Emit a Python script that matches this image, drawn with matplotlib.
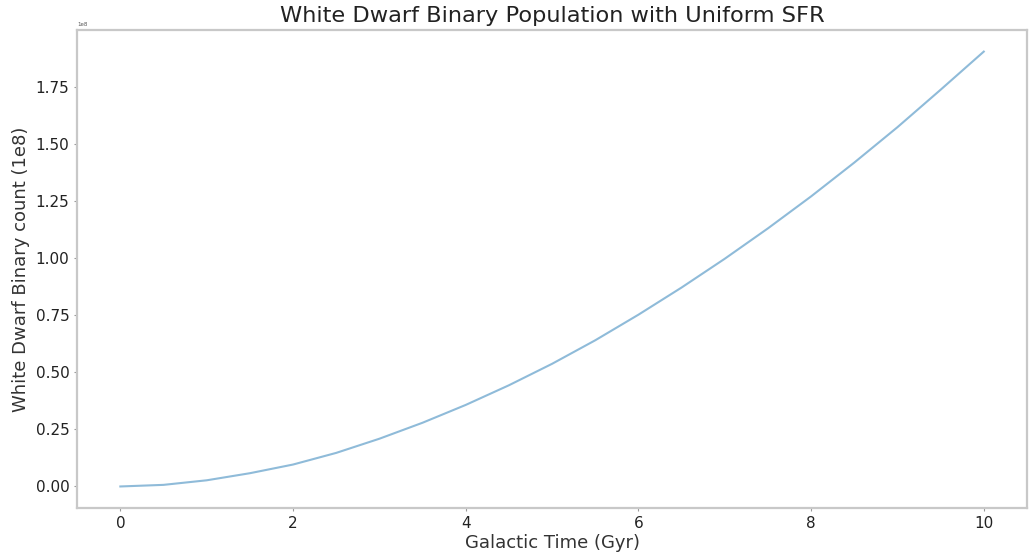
# White dwarf binary population curve
import numpy as np
import matplotlib
matplotlib.use("Agg")
import matplotlib.pyplot as plt

# Datos (tiempo en Gyr, conteo en unidades de 1e8)
tiempo = [0.0, 0.5, 1.0, 1.5, 2.0, 2.5, 3.0, 3.5, 4.0, 4.5, 5.0,
          5.5, 6.0, 6.5, 7.0, 7.5, 8.0, 8.5, 9.0, 9.5, 10.0]
conteo = [0.0, 0.007, 0.027, 0.058, 0.096, 0.147, 0.209, 0.279, 0.357, 0.443, 0.537,
          0.640, 0.752, 0.871, 0.997, 1.130, 1.270, 1.418, 1.573, 1.737, 1.904]

conteo_abs = np.array(conteo) * 1e8

fig = plt.figure(figsize=(10.29, 5.53), dpi=100)
ax = fig.add_axes([0.075, 0.081, 0.923, 0.865])
ax.plot(tiempo, conteo_abs, color='#8fbbd9', linewidth=1.5)

ax.set_title('White Dwarf Binary Population with Uniform SFR', fontsize=16.2, color='#222222')
ax.set_xlabel('Galactic Time (Gyr)', fontsize=13, color='#333333', labelpad=2)
ax.set_ylabel('White Dwarf Binary count (1e8)', fontsize=13, color='#333333')
ax.tick_params(labelsize=11, colors='#999999', labelcolor='#222222', length=2)
ax.set_xticks([0, 2, 4, 6, 8, 10])
ax.yaxis.get_offset_text().set_fontsize(4)
ax.yaxis.get_offset_text().set_color('#555555')

for s in ax.spines.values():
    s.set_color('#c8c8c8')
    s.set_linewidth(1.6)

fig.savefig('out.png', dpi=100)
